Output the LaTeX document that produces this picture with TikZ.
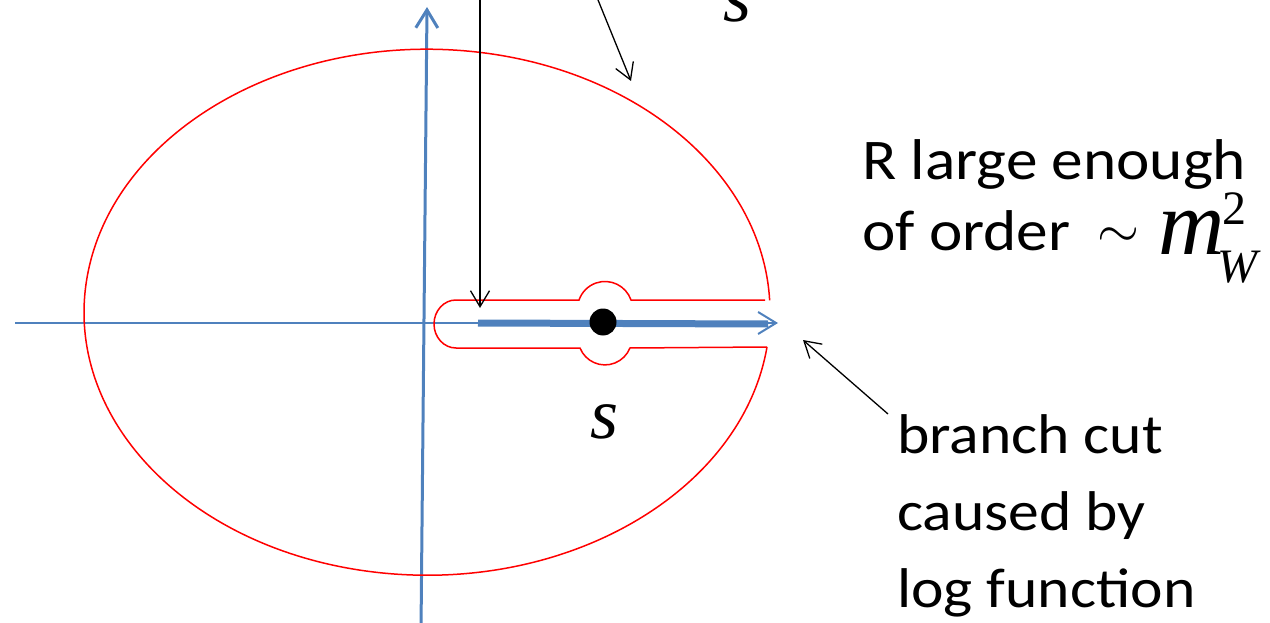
\documentclass[tikz,border=0pt]{standalone}
\usepackage{fontspec}
\setmainfont{Carlito}
\newfontfamily\slideCalibri[FakeStretch=1.1]{Carlito}
\newfontfamily\timesfont{Liberation Serif}
\usepackage{xcolor}
\usepackage{tikz}
\usetikzlibrary{arrows.meta,positioning}
\definecolor{axisblue}{RGB}{79,129,189}
\definecolor{contourred}{RGB}{255,0,0}

\begin{document}
\begin{tikzpicture}[x=1pt,y=-1pt,
    axis/.style={draw=axisblue,line width=2pt,-{Straight Barb[length=18pt,width=22pt]}},
    contour/.style={draw=contourred,line width=1.5pt},
    pointer/.style={draw=black,line width=1.3pt,-{Straight Barb[length=16pt,width=19pt]}},
    rlabel/.style={anchor=base west,inner sep=0,font=\slideCalibri\fontsize{57.5}{70}\selectfont},
    cutlabel/.style={anchor=base west,inner sep=0,font=\slideCalibri\fontsize{56}{77}\selectfont},
    varlabel/.style={anchor=base west,inner sep=0,font=\timesfont\itshape\fontsize{72}{80}\selectfont},
    mathpart/.style={anchor=base west,inner sep=0,text depth=0pt}]
  \useasboundingbox (0,0) rectangle (1270,623);

  % axes of the s plane
  \coordinate (xstart) at (15,323);
  \coordinate (xend) at (778,323);
  \coordinate (ystart) at (421,630);
  \coordinate (yend) at (427,7);
  \draw[axis] (xstart) -- (xend);
  \draw[axis,line width=3pt] (ystart) -- (yend);

  % branch cut on the real axis
  \coordinate (cutstart) at (478,323);
  \coordinate (cutend) at (768,324);
  \draw[axisblue,line width=7pt] (cutstart) -- (cutend);
  \node[circle,fill=black,minimum size=27pt,inner sep=0] (thr) at (603,322) {};

  % keyhole round the cut
  \draw[contour] (765,300) -- (631,300)
    arc[start angle=340.9,end angle=199.1,radius=27.5] -- (456,300)
    arc[start angle=270,end angle=90,x radius=22,y radius=24] -- (580,348)
    arc[start angle=158.2,end angle=21.8,radius=26.9] -- (767,347);

  % big circle of radius R
  \draw[contour] (767,347) arc[start angle=7.6,end angle=357.4,x radius=343,y radius=263];

  % pointers
  \coordinate (lipfrom) at (480,-5);
  \coordinate (lip) at (480,308);
  \coordinate (rimfrom) at (596,-5);
  \coordinate (rim) at (631,81);
  \coordinate (cutfrom) at (888,414);
  \coordinate (cuttip) at (803,340);
  \draw[pointer] (lipfrom) -- (lip);
  \draw[pointer] (rimfrom) -- (rim);
  \draw[pointer] (cutfrom) -- (cuttip);

  % labels
  \node[varlabel] (stop) at (723,22) {s};
  \node[varlabel] (sbot) at (590,438) {s};
  \node[rlabel] (rl1) at (862,179) {R large enough};
  \node[rlabel] (rl2) at (862,250) {of order};
  \node[inner sep=0,scale=5.4] (tld) at (1118,238) {$\sim$};
  \node[mathpart,text height=42pt,font=\timesfont\itshape\fontsize{92}{96}\selectfont] (mw) at (1158,254) {m};
  \node[mathpart,text height=32pt,font=\timesfont\fontsize{48}{50}\selectfont] (sq) at (1222,224) {2};
  \node[mathpart,text height=31pt,font=\timesfont\itshape\fontsize{48}{50}\selectfont] (wsub) at (1217,282) {W};
  \node[cutlabel] (cut1) at (897,453) {branch cut};
  \node[cutlabel] (cut2) at (897,530) {caused by};
  \node[cutlabel] (cut3) at (897,607) {log function};
\end{tikzpicture}
\end{document}
